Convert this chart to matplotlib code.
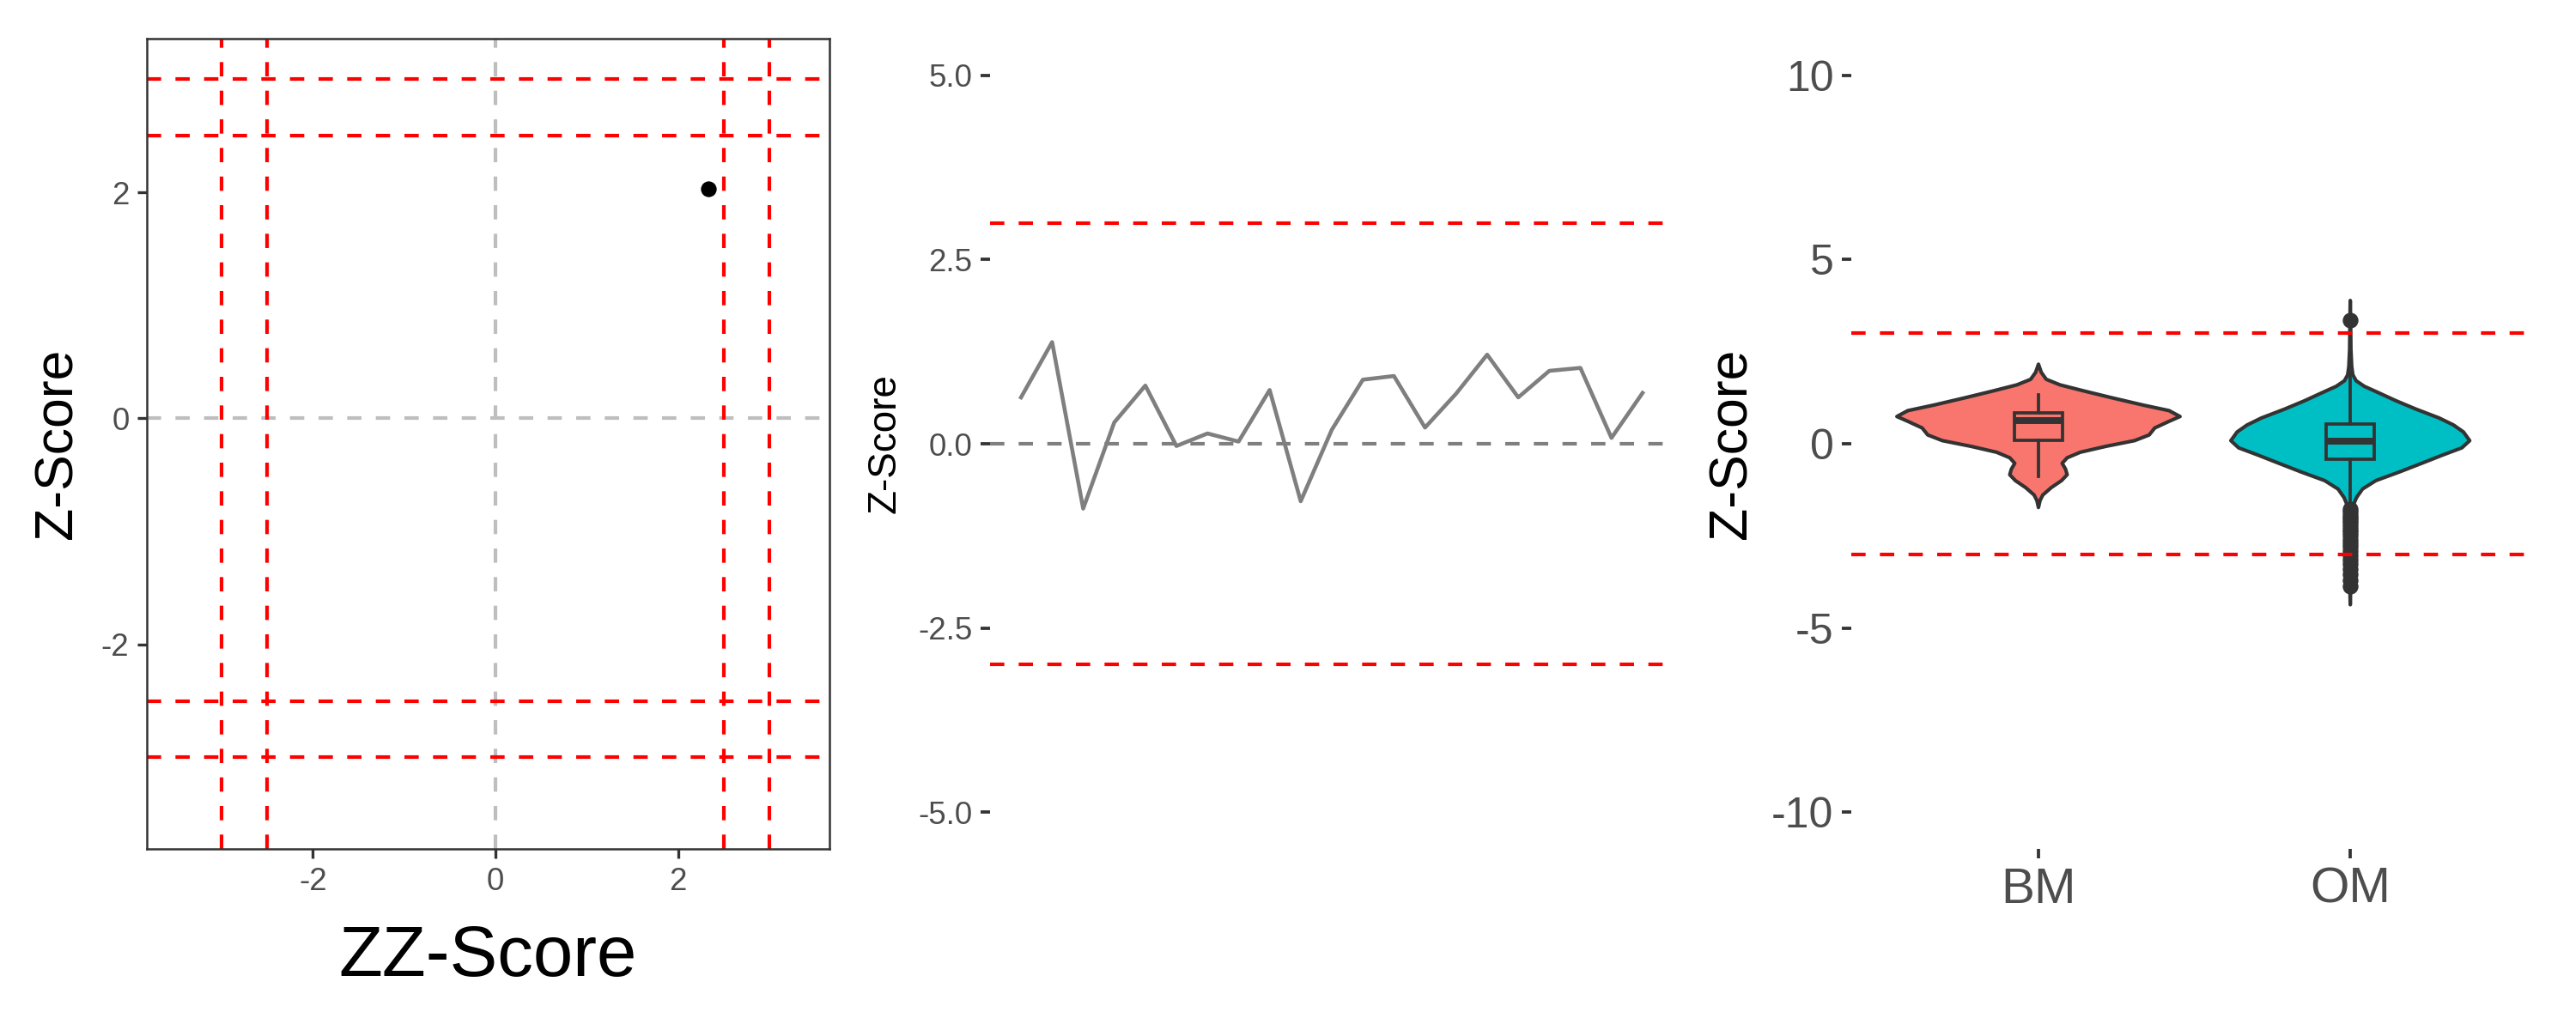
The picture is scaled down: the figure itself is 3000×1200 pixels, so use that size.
import numpy as np
import matplotlib.pyplot as plt

plt.rcParams['font.family'] = ['Liberation Sans', 'DejaVu Sans']

# left panel: one point against the cut-off lines
pt_x = [2.33]
pt_y = [2.03]
cut_lines = [-3.0, -2.5, 2.5, 3.0]

# middle panel: z-score series
series_z = [0.63, 1.38, -0.88, 0.29, 0.79, -0.03, 0.14, 0.03, 0.73, -0.78,
            0.19, 0.87, 0.92, 0.22, 0.68, 1.21, 0.63, 0.99, 1.03, 0.08, 0.69]
series_x = np.arange(1, len(series_z) + 1)

# right panel: violin outlines (y, half width) and box stats
groups = ['BM', 'OM']
fills = ['#F8766D', '#00BFC4']
bm_y = [2.16, 1.94, 1.75, 1.60, 1.44, 1.25, 1.05, 0.90, 0.74, 0.61, 0.43, 0.24,
        0.085, -0.07, -0.23, -0.38, -0.53, -0.69, -0.84, -1.00, -1.19, -1.39, -1.54, -1.73]
bm_w = [0, 0.009, 0.025, 0.069, 0.143, 0.235, 0.336, 0.419, 0.454, 0.419, 0.373, 0.355,
        0.308, 0.216, 0.134, 0.092, 0.076, 0.087, 0.092, 0.074, 0.041, 0.014, 0.005, 0]
om_y = [3.89, 3.34, 2.56, 2.10, 1.87, 1.71, 1.56, 1.40, 1.17, 0.94, 0.70, 0.51, 0.32,
        0.085, -0.11, -0.30, -0.53, -0.77, -1.00, -1.23, -1.46, -1.66, -2.08, -2.86, -3.63, -4.37]
om_w = [0, 0.001, 0.002, 0.0046, 0.0083, 0.019, 0.045, 0.087, 0.146, 0.211, 0.285, 0.331, 0.363,
        0.383, 0.358, 0.298, 0.229, 0.156, 0.082, 0.039, 0.020, 0.010, 0.0055, 0.003, 0.002, 0]
q1 = [0.085, -0.42]
med = [0.62, 0.06]
q3 = [0.84, 0.53]
whis_lo = [-0.88, -1.70]
whis_hi = [1.32, 1.95]
bm_out = []
om_out = [3.36, -1.78, -1.85, -1.93, -2.00, -2.08, -2.15, -2.24, -2.32, -2.41, -2.50,
          -2.60, -2.70, -2.80, -2.92, -3.02, -3.14, -3.27, -3.40, -3.55, -3.70, -3.86]

tick_col = '#4D4D4D'
dark = '#333333'

fig = plt.figure(figsize=(10, 4), dpi=300)
bot, h = 0.1758, 0.7867

# ---- panel 1
ax1 = fig.add_axes([0.057, bot, 0.265, h])
ax1.axhline(0, color='#BEBEBE', ls='--', dashes=(4, 4), lw=1.0, zorder=1)
ax1.axvline(0, color='#BEBEBE', ls='--', dashes=(4, 4), lw=1.0, zorder=1)
for c in cut_lines:
    ax1.axhline(c, color='red', ls='--', dashes=(4, 4), lw=1.0, zorder=2)
    ax1.axvline(c, color='red', ls='--', dashes=(4, 4), lw=1.0, zorder=2)
ax1.plot(pt_x, pt_y, 'o', color='black', ms=4.4, mew=0, zorder=3)
ax1.set_xlim(-3.82, 3.66)
ax1.set_ylim(-3.81, 3.36)
ax1.set_xticks([-2, 0, 2], ['-2', '0', '2'])
ax1.set_yticks([-2, 0, 2], ['-2', '0', '2'])
for s in ax1.spines.values():
    s.set_color(dark)
    s.set_linewidth(0.6)
ax1.tick_params(length=2.75, width=0.8, color=dark, labelcolor=tick_col,
                labelsize=8.8, pad=2.2)
ax1.set_xlabel('ZZ-Score', fontsize=20, labelpad=7.5)
ax1.set_ylabel('Z-Score', fontsize=15, labelpad=5)

# ---- panel 2
ax2 = fig.add_axes([0.3843, bot, 0.2654, h])
ax2.axhline(0, color='#7F7F7F', ls='--', dashes=(4, 4), lw=1.0, zorder=1)
for c in [-3, 3]:
    ax2.axhline(c, color='red', ls='--', dashes=(4, 4), lw=1.0, zorder=2)
ax2.plot(series_x, series_z, color='#7F7F7F', lw=1.1, zorder=3)
ax2.set_xlim(0, 22)
ax2.set_ylim(-5.5, 5.5)
ax2.set_yticks([-5, -2.5, 0, 2.5, 5], ['-5.0', '-2.5', '0.0', '2.5', '5.0'])
ax2.set_xticks([])
for s in ax2.spines.values():
    s.set_visible(False)
ax2.tick_params(axis='y', length=2.75, width=0.9, color=dark, labelcolor=tick_col,
                labelsize=8.8, pad=2.2)
ax2.set_ylabel('Z-Score', fontsize=11, labelpad=4)

# ---- panel 3
ax3 = fig.add_axes([0.7187, bot, 0.2663, h])
prof_y = [bm_y, om_y]
prof_w = [bm_w, om_w]
for i in range(2):
    yy = np.array(prof_y[i])
    ww = np.array(prof_w[i])
    xs = np.concatenate([i + 1 + ww, (i + 1 - ww)[::-1]])
    ys = np.concatenate([yy, yy[::-1]])
    ax3.fill(xs, ys, facecolor=fills[i], edgecolor=dark, lw=1.0,
             joinstyle='round', zorder=1)

outs = [bm_out, om_out]
stats = []
for i in range(2):
    stats.append(dict(med=med[i], q1=q1[i], q3=q3[i], whislo=whis_lo[i],
                      whishi=whis_hi[i], fliers=outs[i]))
bp = ax3.bxp(stats, positions=[1, 2], widths=0.155, patch_artist=True,
             showcaps=False,
             boxprops=dict(edgecolor=dark, lw=0.9),
             medianprops=dict(color=dark, lw=1.9, solid_capstyle='butt'),
             whiskerprops=dict(color=dark, lw=0.9),
             flierprops=dict(marker='o', markerfacecolor=dark, markeredgecolor=dark,
                             markersize=4.4, mew=0))
for i, b in enumerate(bp['boxes']):
    b.set_facecolor(fills[i])
    b.set_zorder(2)
for c in [-3, 3]:
    ax3.axhline(c, color='red', ls='--', dashes=(4, 4), lw=1.0, zorder=5)
ax3.set_xlim(0.4, 2.6)
ax3.set_ylim(-11, 11)
ax3.set_xticks([1, 2], groups)
ax3.set_yticks([-10, -5, 0, 5, 10], ['-10', '-5', '0', '5', '10'])
for s in ax3.spines.values():
    s.set_visible(False)
ax3.tick_params(length=2.75, width=0.9, color=dark, labelcolor=tick_col, pad=2.2)
ax3.tick_params(axis='y', labelsize=12)
ax3.tick_params(axis='x', labelsize=14)
ax3.set_ylabel('Z-Score', fontsize=15, labelpad=4)

fig.savefig('out.png', dpi=300)
